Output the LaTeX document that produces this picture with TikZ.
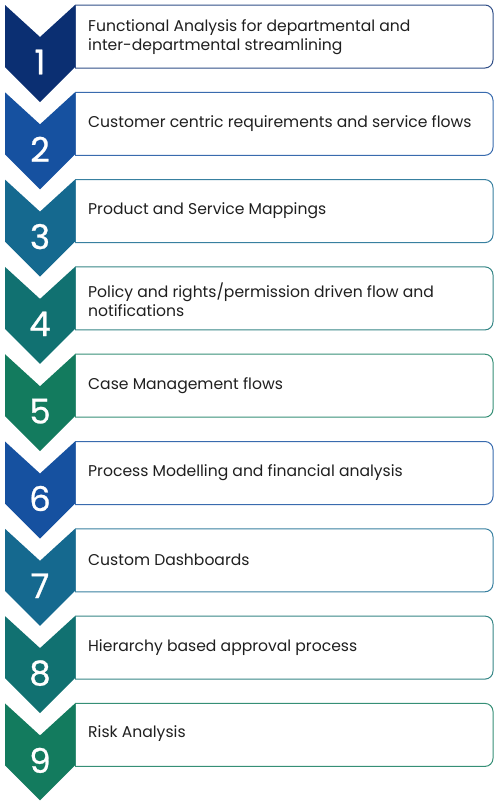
\documentclass[tikz,border=0pt]{standalone}
\usepackage{fontspec}
\setmainfont{Poppins}
\definecolor{navy}{HTML}{0B2F72}
\definecolor{royal}{HTML}{1651A0}
\definecolor{ocean}{HTML}{15698F}
\definecolor{teal}{HTML}{117171}
\definecolor{jade}{HTML}{137B5E}
\begin{document}
\begin{tikzpicture}[x=1pt,y=-1pt,
    num/.style={text=white,font=\fontsize{34}{34}\selectfont\addfontfeature{FakeBold=0.8}},
    txt/.style={anchor=west,align=left,inner sep=0pt,text=black!88,
      font=\fontsize{15.6}{19.2}\selectfont},
    frame/.style={draw=#1!85,line width=1pt,rounded corners=8pt}]
  \useasboundingbox (0,0) rectangle (500,807);
  % step 1
  \begin{scope}[shift={(0,5)}]
    \fill[navy] (5,0) -- (40,32) -- (75,0) -- (75,62) -- (40,97) -- (5,62) -- cycle;
    \draw[frame=navy] (75,0) -- (493,0) -- (493,63) -- (75,63);
    \draw[navy!85,line width=1pt] (75,0) -- (75,63);
    \node[num] (n1) at (40,57) {1};
    \node[txt] (t1) at (88,32.5) {Functional Analysis for departmental and\\inter-departmental streamlining};
  \end{scope}
  % step 2
  \begin{scope}[shift={(0,92.3)}]
    \fill[royal] (5,0) -- (40,32) -- (75,0) -- (75,62) -- (40,97) -- (5,62) -- cycle;
    \draw[frame=royal] (75,0) -- (493,0) -- (493,63) -- (75,63);
    \draw[royal!85,line width=1pt] (75,0) -- (75,63);
    \node[num] (n2) at (40,57) {2};
    \node[txt] (t2) at (88,31) {Customer centric requirements and service flows};
  \end{scope}
  % step 3
  \begin{scope}[shift={(0,179.6)}]
    \fill[ocean] (5,0) -- (40,32) -- (75,0) -- (75,62) -- (40,97) -- (5,62) -- cycle;
    \draw[frame=ocean] (75,0) -- (493,0) -- (493,63) -- (75,63);
    \draw[ocean!85,line width=1pt] (75,0) -- (75,63);
    \node[num] (n3) at (40,57) {3};
    \node[txt] (t3) at (88,31) {Product and Service Mappings};
  \end{scope}
  % step 4
  \begin{scope}[shift={(0,266.9)}]
    \fill[teal] (5,0) -- (40,32) -- (75,0) -- (75,62) -- (40,97) -- (5,62) -- cycle;
    \draw[frame=teal] (75,0) -- (493,0) -- (493,63) -- (75,63);
    \draw[teal!85,line width=1pt] (75,0) -- (75,63);
    \node[num] (n4) at (40,57) {4};
    \node[txt] (t4) at (88,32.5) {Policy and rights/permission driven flow and\\notifications};
  \end{scope}
  % step 5
  \begin{scope}[shift={(0,354.2)}]
    \fill[jade] (5,0) -- (40,32) -- (75,0) -- (75,62) -- (40,97) -- (5,62) -- cycle;
    \draw[frame=jade] (75,0) -- (493,0) -- (493,63) -- (75,63);
    \draw[jade!85,line width=1pt] (75,0) -- (75,63);
    \node[num] (n5) at (40,57) {5};
    \node[txt] (t5) at (88,31) {Case Management flows};
  \end{scope}
  % step 6
  \begin{scope}[shift={(0,441.5)}]
    \fill[royal] (5,0) -- (40,32) -- (75,0) -- (75,62) -- (40,97) -- (5,62) -- cycle;
    \draw[frame=royal] (75,0) -- (493,0) -- (493,63) -- (75,63);
    \draw[royal!85,line width=1pt] (75,0) -- (75,63);
    \node[num] (n6) at (40,57) {6};
    \node[txt] (t6) at (88,31) {Process Modelling and financial analysis};
  \end{scope}
  % step 7
  \begin{scope}[shift={(0,528.8)}]
    \fill[ocean] (5,0) -- (40,32) -- (75,0) -- (75,62) -- (40,97) -- (5,62) -- cycle;
    \draw[frame=ocean] (75,0) -- (493,0) -- (493,63) -- (75,63);
    \draw[ocean!85,line width=1pt] (75,0) -- (75,63);
    \node[num] (n7) at (40,57) {7};
    \node[txt] (t7) at (88,31) {Custom Dashboards};
  \end{scope}
  % step 8
  \begin{scope}[shift={(0,616.1)}]
    \fill[teal] (5,0) -- (40,32) -- (75,0) -- (75,62) -- (40,97) -- (5,62) -- cycle;
    \draw[frame=teal] (75,0) -- (493,0) -- (493,63) -- (75,63);
    \draw[teal!85,line width=1pt] (75,0) -- (75,63);
    \node[num] (n8) at (40,57) {8};
    \node[txt] (t8) at (88,31) {Hierarchy based approval process};
  \end{scope}
  % step 9
  \begin{scope}[shift={(0,703.4)}]
    \fill[jade] (5,0) -- (40,32) -- (75,0) -- (75,62) -- (40,97) -- (5,62) -- cycle;
    \draw[frame=jade] (75,0) -- (493,0) -- (493,63) -- (75,63);
    \draw[jade!85,line width=1pt] (75,0) -- (75,63);
    \node[num] (n9) at (40,57) {9};
    \node[txt] (t9) at (88,30) {Risk Analysis};
  \end{scope}
\end{tikzpicture}
\end{document}
